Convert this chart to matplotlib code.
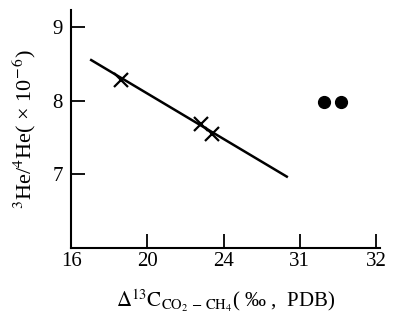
import numpy as np
import matplotlib
matplotlib.use("Agg")
import matplotlib.pyplot as plt

# Tick values on the (broken, non-linear) x axis, each drawn one unit apart
X_TICKS = [16, 20, 24, 31, 32]
Y_TICKS = [7, 8, 9]

# Regression line ends
line_x = [17.0, 29.9]
line_y = [8.56, 6.96]

# Cross markers (samples on the trend)
cross_x = [18.6, 22.8, 23.4]
cross_y = [8.28, 7.68, 7.55]

# Filled dots
dot_x = [31.32, 31.54]
dot_y = [7.98, 7.98]

plt.rcParams['font.family'] = ['Liberation Serif', 'DejaVu Serif']
plt.rcParams['mathtext.fontset'] = 'stix'

positions = np.arange(len(X_TICKS), dtype=float)


def fwd(v):
    # value -> evenly spaced tick position (piecewise linear), extended past the last tick
    v = np.asarray(v, dtype=float)
    out = np.interp(v, X_TICKS, positions)
    over = v > X_TICKS[-1]
    return np.where(over, positions[-1] + (v - X_TICKS[-1]) / (X_TICKS[-1] - X_TICKS[-2]), out)


def inv(p):
    p = np.asarray(p, dtype=float)
    out = np.interp(p, positions, X_TICKS)
    over = p > positions[-1]
    return np.where(over, X_TICKS[-1] + (p - positions[-1]) * (X_TICKS[-1] - X_TICKS[-2]), out)


fig = plt.figure(figsize=(3.97, 3.25), dpi=100)
ax = fig.add_axes([0.179, 0.237, 0.778, 0.732])
ax.set_xscale('function', functions=(fwd, inv))

ax.plot(line_x, line_y, color='black', lw=1.8, solid_capstyle='butt')
ax.plot(cross_x, cross_y, linestyle='none', marker='x', markersize=10,
        markeredgewidth=1.6, color='black')
ax.plot(dot_x, dot_y, linestyle='none', marker='o', markersize=8.5, color='black')

ax.set_xlim(16, 32.05)
ax.set_ylim(6.0, 9.23)
ax.set_xticks(X_TICKS)
ax.set_xticklabels([str(t) for t in X_TICKS])
ax.set_yticks(Y_TICKS)
ax.minorticks_off()

for side in ('top', 'right'):
    ax.spines[side].set_visible(False)
for side in ('left', 'bottom'):
    ax.spines[side].set_linewidth(1.5)

ax.tick_params(axis='both', direction='in', length=10, width=1.3, labelsize=15)
ax.tick_params(axis='x', pad=3)
ax.tick_params(axis='y', pad=6)

ax.set_ylabel(r"$^3$He/$^4$He( × 10$^{-\,6}$)", fontsize=16, labelpad=10)
ax.set_xlabel(r"$\mathit{\Delta}^{13}\mathrm{C}_{\mathrm{CO_2\,-\,CH_4}}$( ‰ ,  PDB)",
              fontsize=15, labelpad=12)

fig.savefig("out.png", dpi=100)
